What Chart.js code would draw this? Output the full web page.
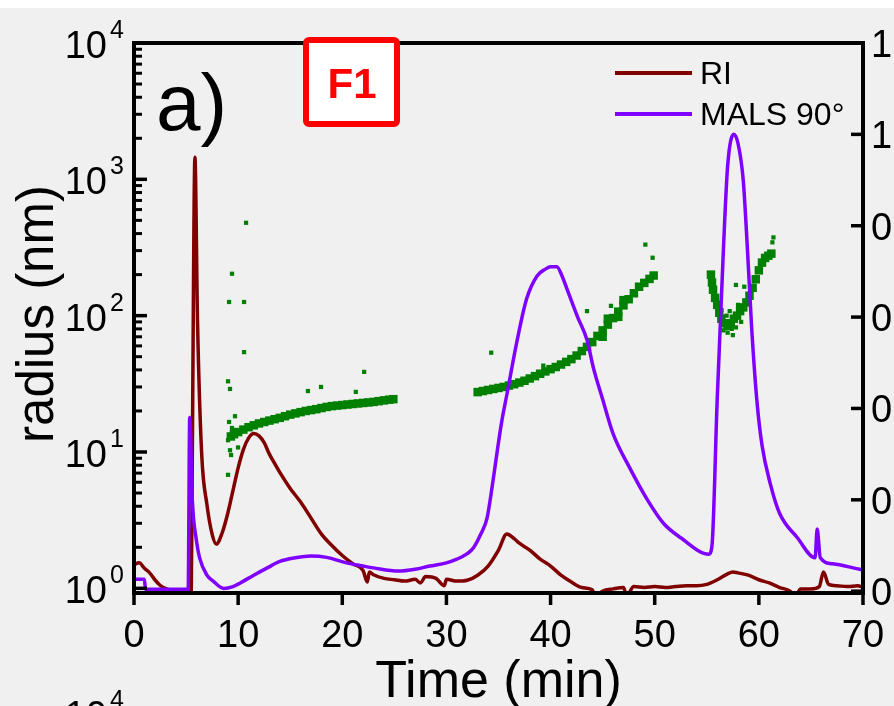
<!DOCTYPE html>
<html lang="en">
  <head>
    <meta charset="UTF-8" />
    <title>a) F1 - RI, MALS 90° and radius</title>
    <style>
      html, body { margin: 0; padding: 0; background: #f0f0f0; overflow: hidden; }
      canvas { display: block; }
    </style>
  </head>
  <body>
    <canvas id="myChart" width="894" height="706"></canvas>
    <script src="https://cdn.jsdelivr.net/npm/chart.js"></script>
    <script>
      // RI trace (right axis, normalised)
      const riTime = [0, 0.5, 1, 1.5, 2, 2.5, 3, 3.5, 4, 4.5, 5, 5.3, 5.5, 5.6, 5.85, 6.1, 6.5, 7, 7.5, 7.9, 8.5, 9, 9.5, 10, 10.5, 11, 11.5, 12, 12.5, 13, 13.5, 14, 15, 16, 17, 18, 19, 20, 21, 22, 22.4, 22.6, 23, 24, 25, 26, 27, 27.5, 28, 29, 29.8, 30, 31, 32, 33, 34, 35, 35.8, 36.5, 37, 38, 39, 40, 41, 42, 43, 44, 44.3, 45, 46, 47, 47.3, 48, 49, 50, 51, 52, 53, 54, 55, 56, 57, 57.5, 58, 59, 60, 61, 62, 63, 63.5, 64, 65, 65.8, 66.2, 66.7, 67.5, 68.5, 69.5, 70]
      const riValue = [0.058, 0.062, 0.05, 0.04, 0.025, 0.013, 0.006, 0.002, -0.002, 0.0, -0.006, 0.0, 0.0, 0.3, 0.95, 0.59, 0.3, 0.19, 0.125, 0.103, 0.13, 0.17, 0.22, 0.27, 0.31, 0.335, 0.345, 0.34, 0.325, 0.3, 0.28, 0.26, 0.225, 0.195, 0.16, 0.125, 0.1, 0.078, 0.06, 0.045, 0.02, 0.042, 0.036, 0.028, 0.025, 0.022, 0.026, 0.018, 0.032, 0.028, 0.012, 0.026, 0.022, 0.024, 0.035, 0.055, 0.09, 0.125, 0.115, 0.105, 0.09, 0.07, 0.055, 0.035, 0.02, 0.008, 0.003, -0.012, 0.0, 0.005, 0.008, -0.01, 0.01, 0.008, 0.01, 0.008, 0.01, 0.012, 0.012, 0.015, 0.025, 0.038, 0.042, 0.04, 0.035, 0.025, 0.018, 0.008, 0.0, -0.012, 0.005, 0.005, 0.01, 0.042, 0.015, 0.012, 0.01, 0.012, 0.008]

      // MALS 90° trace (right axis, normalised)
      const malsTime = [0, 1, 1.1, 5.2, 5.35, 5.6, 6, 6.3, 7, 7.6, 8.6, 9.5, 10.2, 11.5, 12.8, 14, 15.5, 17, 18.5, 20.4, 22, 23, 25.4, 27, 28.4, 30, 31, 32, 32.6, 33.3, 33.9, 34.4, 34.9, 35.3, 35.8, 36.8, 37.7, 38.7, 39.5, 40, 40.6, 41.1, 41.6, 42.6, 43.5, 44.1, 45, 46, 47.6, 49.3, 50.9, 52.5, 55.2, 55.5, 56, 56.6, 57, 57.6, 58, 58.5, 58.9, 59.3, 59.8, 60.3, 61.1, 62, 63.7, 65.4, 65.6, 65.9, 67.1, 69.7, 70]
      const malsValue = [0.026, 0.026, 0.004, 0.004, 0.38, 0.2, 0.11, 0.073, 0.035, 0.022, 0.006, 0.01, 0.018, 0.035, 0.051, 0.065, 0.073, 0.077, 0.074, 0.062, 0.055, 0.051, 0.044, 0.048, 0.055, 0.062, 0.07, 0.082, 0.095, 0.125, 0.16, 0.23, 0.31, 0.37, 0.43, 0.55, 0.64, 0.69, 0.705, 0.71, 0.71, 0.69, 0.66, 0.6, 0.55, 0.49, 0.42, 0.345, 0.27, 0.2, 0.147, 0.117, 0.081, 0.1, 0.42, 0.75, 0.93, 1.0, 0.98, 0.9, 0.75, 0.58, 0.42, 0.32, 0.235, 0.17, 0.117, 0.073, 0.136, 0.073, 0.06, 0.048, 0.047]

      // radius (nm), dense band of points (left log axis)
      const radTime = [9.3, 9.6, 10, 10.5, 11, 11.5, 12, 12.5, 13, 13.5, 14, 14.5, 15, 15.5, 16, 16.5, 17, 17.5, 18, 18.5, 19, 19.5, 20, 20.5, 21, 21.5, 22, 22.5, 23, 23.5, 24, 24.5, 24.9,
        33, 33.5, 34, 34.5, 35, 35.5, 36, 36.5, 37, 37.5, 38, 38.5, 39, 39.5, 40, 40.5, 41, 41.5, 42, 42.5, 43, 43.5, 44, 44.5, 45, 45.5, 46, 46.5, 47, 47.5, 48, 48.5, 49, 49.5, 49.9, 45, 45.5, 46.5, 47,
        55.4, 55.5, 55.6, 55.8, 56, 56.2, 56.4, 56.7, 57, 57.3, 57.6, 57.9, 58.2, 58.5, 58.8, 59.1, 59.4, 59.7, 60, 60.3, 60.6, 60.9, 61.2]
      const radValue = [13, 13.5, 14, 14.6, 15.2, 15.7, 16.2, 16.6, 17, 17.4, 17.8, 18.3, 18.8, 19.2, 19.6, 20, 20.3, 20.6, 21, 21.4, 21.7, 21.9, 22.1, 22.3, 22.5, 22.7, 22.9, 23.1, 23.3, 23.6, 23.9, 24.2, 24.4,
        27.5, 28, 28.5, 29, 29.5, 30, 30.7, 31.4, 32.3, 33.3, 34.6, 36, 37.5, 39, 40.5, 42, 43.8, 45.8, 48, 51, 55, 59, 64, 71, 78, 86, 96, 107, 119, 132, 146, 163, 174, 186, 197, 70, 95, 98, 130,
        200, 175, 155, 135, 120, 105, 95, 88, 84, 88, 95, 100, 108, 115, 125, 140, 160, 185, 215, 245, 265, 275, 285]

      // radius (nm), isolated points
      const radOutTime = [9.03, 9.13, 9.22, 9.32, 9.41, 9.7, 9.99, 9.03, 9.03, 9.22, 9.13, 9.41, 10.57, 10.57, 10.76, 16.7, 17.96, 21.3, 22.1,
        34.3, 39.3, 43.5, 45.8, 49.1, 49.8,
        56.4, 56.6, 56.9, 57, 57.2, 57.4, 57.5, 57.8, 57.8, 58, 58.3, 58.6, 61.3, 61.4]
      const radOutValue = [12.2, 16.6, 10.3, 9.5, 15, 18.3, 10.8, 6.8, 33, 29, 126, 203, 126, 54, 480, 28, 30, 27.6, 38.7,
        53.5, 43, 108, 118, 332, 266,
        110, 78, 100, 75, 108, 80, 72, 82, 168, 120, 90, 163, 345, 375]

      const xTicks = [0, 10, 20, 30, 40, 50, 60, 70]
      const rightTicks = [0, 0.2, 0.4, 0.6, 0.8, 1.0, 1.2]
      const logExponents = [0, 1, 2, 3, 4]

      const FONT = '"Liberation Sans", Arial, sans-serif'

      const toPoints = (xs, ys) => xs.map((x, i) => ({ x: x, y: ys[i] }))

      const drawPow = (ctx, exp, xRight, y) => {
        ctx.font = '38px ' + FONT
        ctx.textAlign = 'right'
        ctx.fillText('10', xRight, y + 15)
        ctx.font = '25px ' + FONT
        ctx.textAlign = 'left'
        ctx.fillText(String(exp), xRight + 3, y - 5)
      }

      const line = (ctx, x1, y1, x2, y2) => {
        ctx.beginPath()
        ctx.moveTo(x1, y1)
        ctx.lineTo(x2, y2)
        ctx.stroke()
      }

      const framePlugin = {
        id: 'frame',
        beforeDraw(chart) {
          const { ctx, width, height } = chart
          ctx.save()
          ctx.fillStyle = '#f0f0f0'
          ctx.fillRect(0, 0, width, height)
          ctx.fillStyle = '#ffffff'
          ctx.fillRect(0, 0, width, 8)
          ctx.restore()
        },
        afterDatasetsDraw(chart) {
          const { ctx, chartArea: a, scales } = chart
          const x = scales.x
          const yL = scales.yL
          const yR = scales.yR
          ctx.save()
          ctx.strokeStyle = '#000'
          ctx.fillStyle = '#000'
          ctx.lineWidth = 4
          ctx.strokeRect(a.left, a.top, a.right - a.left, a.bottom - a.top)

          // x axis: ticks outward
          ctx.lineWidth = 3.5
          ctx.textBaseline = 'alphabetic'
          xTicks.forEach((v) => {
            const px = x.getPixelForValue(v)
            line(ctx, px, a.bottom, px, a.bottom + 12)
            ctx.font = '38px ' + FONT
            ctx.textAlign = 'center'
            ctx.fillText(String(v), px, a.bottom + 54)
          })
          ctx.font = '52px ' + FONT
          ctx.textAlign = 'center'
          ctx.fillText('Time (min)', (a.left + a.right) / 2, a.bottom + 104)

          // left log axis: ticks inward
          logExponents.forEach((k) => {
            const py = yL.getPixelForValue(Math.pow(10, k))
            ctx.lineWidth = 3.5
            line(ctx, a.left, py, a.left + 13, py)
            drawPow(ctx, k, 107, py)
            if (k < 4) {
              for (let m = 2; m <= 9; m++) {
                const pm = yL.getPixelForValue(m * Math.pow(10, k))
                ctx.lineWidth = 3
                line(ctx, a.left, pm, a.left + 8, pm)
              }
            }
          })
          ctx.save()
          ctx.translate(53, (a.top + a.bottom) / 2 - 4)
          ctx.rotate(-Math.PI / 2)
          ctx.font = '51px ' + FONT
          ctx.textAlign = 'center'
          ctx.fillText('radius (nm)', 0, 0)
          ctx.restore()

          // right axis: ticks inward, labels run off the edge
          rightTicks.forEach((v) => {
            const py = yR.getPixelForValue(v)
            ctx.lineWidth = 3.5
            line(ctx, a.right - 12, py, a.right, py)
            ctx.font = '38px ' + FONT
            ctx.textAlign = 'left'
            ctx.fillText(v.toFixed(1), a.right + 8, py + 14)
          })

          // panel letter
          ctx.font = '80px ' + FONT
          ctx.textAlign = 'left'
          ctx.fillText('a)', 156, 130)

          // F1 box
          ctx.fillStyle = '#ffffff'
          ctx.strokeStyle = '#ff0000'
          ctx.lineWidth = 6
          ctx.beginPath()
          ctx.roundRect(306, 40, 91, 84, 3)
          ctx.fill()
          ctx.stroke()
          ctx.fillStyle = '#ff0000'
          ctx.font = 'bold 42px ' + FONT
          ctx.textAlign = 'center'
          ctx.fillText('F1', 352, 98)

          // legend
          const legend = [['RI', '#800000', 73], ['MALS 90°', '#8000ff', 114]]
          legend.forEach(([label, color, ly]) => {
            ctx.strokeStyle = color
            ctx.lineWidth = 4
            line(ctx, 615, ly, 692, ly)
            ctx.fillStyle = '#000'
            ctx.font = '32px ' + FONT
            ctx.textAlign = 'left'
            ctx.fillText(label, 700, ly + 11)
          })

          // top of the next panel's axis label
          ctx.fillStyle = '#000'
          drawPow(ctx, 4, 107, 713)
          ctx.restore()
        }
      }

      const ctx = document.getElementById('myChart')

      const myChart = new Chart(ctx, {
        type: 'line',
        data: {
          datasets: [
            {
              label: 'MALS 90°',
              data: toPoints(malsTime, malsValue),
              yAxisID: 'yR',
              borderColor: '#8000ff',
              borderWidth: 3.5,
              pointRadius: 0,
              cubicInterpolationMode: 'monotone',
              order: 1
            },
            {
              label: 'RI',
              data: toPoints(riTime, riValue),
              yAxisID: 'yR',
              borderColor: '#800000',
              borderWidth: 3.5,
              pointRadius: 0,
              cubicInterpolationMode: 'monotone',
              order: 2
            },
            {
              label: 'radius',
              data: toPoints(radTime, radValue),
              yAxisID: 'yL',
              showLine: false,
              pointStyle: 'rect',
              pointRadius: 6,
              backgroundColor: '#008000',
              borderColor: '#008000',
              borderWidth: 0,
              order: 3
            },
            {
              label: 'radius (single)',
              data: toPoints(radOutTime, radOutValue),
              yAxisID: 'yL',
              showLine: false,
              pointStyle: 'rect',
              pointRadius: 3,
              backgroundColor: '#008000',
              borderColor: '#008000',
              borderWidth: 0,
              order: 3
            }
          ]
        },
        options: {
          responsive: false,
          animation: false,
          devicePixelRatio: 1,
          layout: {
            padding: { left: 134, top: 43, right: 31, bottom: 113 }
          },
          plugins: {
            legend: { display: false },
            tooltip: { enabled: false }
          },
          scales: {
            x: { type: 'linear', min: 0, max: 70, display: false },
            yL: { type: 'logarithmic', position: 'left', min: 0.924, max: 10000, display: false },
            yR: { type: 'linear', position: 'right', min: -0.004, max: 1.2, display: false }
          }
        },
        plugins: [framePlugin]
      })
    </script>
  </body>
</html>
